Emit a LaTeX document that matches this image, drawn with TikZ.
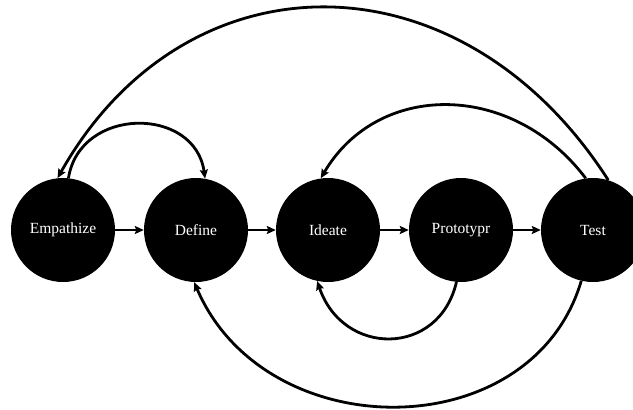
\documentclass[tikz,border=0pt]{standalone}
\usepackage{fontspec}
\setmainfont{Liberation Serif}
\usetikzlibrary{arrows.meta}
\begin{document}
\begin{tikzpicture}[x=1pt,y=1pt,
  stage/.style={circle,fill=black,draw=none,minimum size=104pt,inner sep=0pt,
    text=white,font=\fontsize{15.5}{18}\selectfont},
  flow/.style={line width=2.6pt,-{Stealth[length=9pt,width=8pt,inset=1.5pt]}},
  loopback/.style={line width=2.8pt,-{Stealth[length=9pt,width=8pt,inset=1.5pt]}}]
\useasboundingbox[fill=white] (0,0) rectangle (633,-410);
\node[stage] (E) at (63,-230) {Empathize};
\node[stage] (D) at (196,-230) {Define};
\node[stage] (I) at (328,-230) {Ideate};
\node[stage] (P) at (461,-230) {Prototypr};
\node[stage] (T) at (593,-230) {Test};
\draw[flow] (E) -- (D);
\draw[flow] (D) -- (I);
\draw[flow] (I) -- (P);
\draw[flow] (P) -- (T);
% Empathize -> Define (top)
\draw[loopback] (E.84) .. controls (80,-106) and (195,-106) .. (D.80);
% Test -> Empathize (big top)
\draw[loopback] (T.73) .. controls (461,49.5) and (186,49.5) .. (E.96);
% Test -> Ideate (top)
\draw[loopback] (T.98) .. controls (512,-81) and (378,-81) .. (I.98);
% Prototypr -> Ideate (bottom)
\draw[loopback] (P.265) .. controls (439,-357) and (343,-357) .. (I.258);
% Test -> Define (bottom)
\draw[loopback] (T.257) .. controls (532,-448) and (265,-448) .. (D.268);
\end{tikzpicture}
\end{document}
